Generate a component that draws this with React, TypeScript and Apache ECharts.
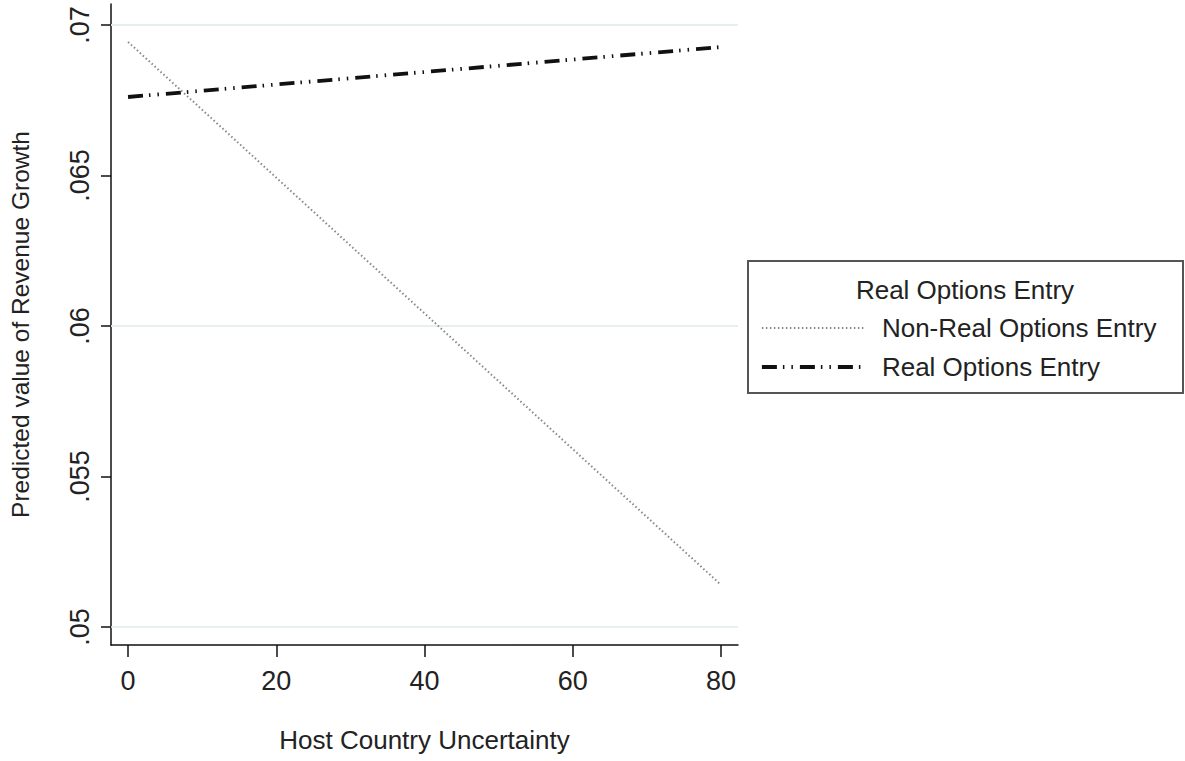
import React, { useEffect, useRef } from "react";
import * as echarts from "echarts";

const xValues = [0, 80];
const nonRealOptions = [0.06944, 0.0514];
const realOptions = [0.06761, 0.06927];
const xTicks = [0, 20, 40, 60, 80];
const yTicks = [0.05, 0.055, 0.06, 0.065, 0.07];
const yTickLabels = [".05", ".055", ".06", ".065", ".07"];
const seriesNames = ["Non-Real Options Entry", "Real Options Entry"];
const legendTitle = "Real Options Entry";
const xTitle = "Host Country Uncertainty";
const yTitle = "Predicted value of Revenue Growth";

const FONT = '"Liberation Sans", Arial, sans-serif';

export default function App() {
  const ref = useRef<HTMLDivElement>(null);
  useEffect(() => {
    if (!ref.current) return;
    const chart = echarts.init(ref.current, undefined, { renderer: "svg" });
    const nonRealStyle = { color: "#888", width: 2, type: [1.5, 2.5] as any };
    const realStyle = { color: "#111", width: 3.8, type: [15, 6, 1.5, 7, 1.5, 7] as any };
    chart.setOption({
      animation: false,
      backgroundColor: "#fff",
      textStyle: { fontFamily: FONT },
      grid: { left: 111, right: 447, top: 4, bottom: 116 },
      xAxis: {
        type: "value",
        min: -2.3,
        max: 82.3,
        name: xTitle,
        nameLocation: "middle",
        nameGap: 82,
        nameTextStyle: { fontSize: 26, color: "#222", fontFamily: FONT },
        axisLine: { show: true, onZero: false, lineStyle: { color: "#111", width: 1.5 } },
        axisTick: { show: true, length: 12, customValues: xTicks, lineStyle: { color: "#111", width: 1.5 } },
        axisLabel: { customValues: xTicks, margin: 22, fontSize: 27, color: "#222", fontFamily: FONT },
        splitLine: { show: false },
      },
      yAxis: {
        type: "value",
        min: 0.0494,
        max: 0.0707,
        name: yTitle,
        nameLocation: "middle",
        nameGap: 78,
        nameRotate: 90,
        nameTextStyle: { fontSize: 24.5, color: "#222", fontFamily: FONT },
        axisLine: { show: true, onZero: false, lineStyle: { color: "#111", width: 1.5 } },
        axisTick: { show: true, length: 10, customValues: yTicks, lineStyle: { color: "#111", width: 1.5 } },
        axisLabel: {
          customValues: yTicks,
          rotate: 90,
          margin: 18,
          fontSize: 27,
          color: "#222",
          fontFamily: FONT,
          formatter: (v: number) => {
            const i = yTicks.findIndex((t) => Math.abs(t - v) < 1e-9);
            return i >= 0 ? yTickLabels[i] : "";
          },
        },
        splitLine: { show: false },
      },
      legend: {
        orient: "vertical",
        left: 760,
        top: 315,
        itemWidth: 103,
        itemHeight: 14,
        itemGap: 13,
        padding: 0,
        textStyle: { fontSize: 26, color: "#222", fontFamily: FONT, padding: [0, 0, 0, 12], lineHeight: 26 },
        data: [
          { name: seriesNames[0], lineStyle: nonRealStyle, itemStyle: { opacity: 0 } },
          { name: seriesNames[1], lineStyle: realStyle, itemStyle: { opacity: 0 } },
        ],
      },
      graphic: [
        {
          type: "rect",
          shape: { x: 748, y: 261, width: 435, height: 132 },
          style: { fill: "none", stroke: "#555", lineWidth: 2 },
          z: 0,
        },
        {
          type: "text",
          x: 965,
          y: 290,
          style: {
            text: legendTitle,
            fontSize: 26,
            fontFamily: FONT,
            fill: "#222",
            textAlign: "center",
            textVerticalAlign: "middle",
          },
        },
      ],
      series: [
        {
          name: seriesNames[0],
          type: "line",
          data: xValues.map((x, i) => [x, nonRealOptions[i]]),
          symbol: "none",
          itemStyle: { color: "#888" },
          lineStyle: nonRealStyle,
          z: 3,
          markLine: {
            silent: true,
            symbol: "none",
            label: { show: false },
            lineStyle: { color: "#e4eced", width: 1.5, type: "solid" },
            data: yTicks.map((v) => ({ yAxis: v })),
            z: 1,
          },
        },
        {
          name: seriesNames[1],
          type: "line",
          data: xValues.map((x, i) => [x, realOptions[i]]),
          symbol: "none",
          itemStyle: { color: "#111" },
          lineStyle: realStyle,
          z: 4,
        },
      ],
    });
    return () => chart.dispose();
  }, []);
  return (
    <div
      ref={ref}
      style={{ position: "fixed", left: 0, top: 0, width: 1185, height: 761 }}
    />
  );
}
